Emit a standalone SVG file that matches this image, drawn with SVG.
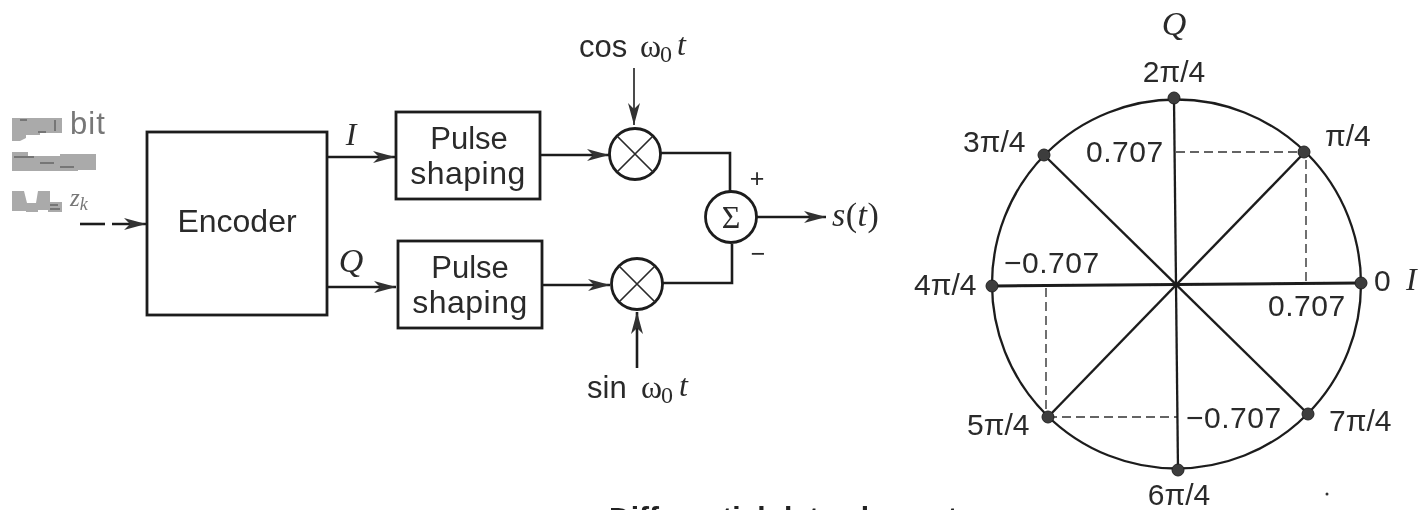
<svg xmlns="http://www.w3.org/2000/svg" width="1422" height="510" viewBox="0 0 1422 510">
<style>
.s{font-family:"Liberation Sans",Arial,sans-serif;font-size:30px;fill:#2a2a2a}
.m{font-family:"Liberation Serif","Times New Roman",serif;font-style:italic;font-size:32px;fill:#2a2a2a}
.g{font-family:"Liberation Serif","Times New Roman",serif;font-size:32px;fill:#2a2a2a}
.l{fill:none;stroke:#1c1c1c;stroke-width:2.6}
.t{fill:none;stroke:#2a2a2a;stroke-width:1.7}
.d{fill:none;stroke:#333;stroke-width:1.4;stroke-dasharray:9 5}
.b{fill:#fff;stroke:#1c1c1c;stroke-width:2.8}
.p{fill:#3c3c3c;stroke:#222;stroke-width:1}
.h{fill:#aaa}
.k{fill:none;stroke:#666;stroke-width:1.5}
</style>
<defs>
<marker id="a" markerUnits="userSpaceOnUse" markerWidth="26" markerHeight="14" refX="24" refY="7" orient="auto"><path d="M2 1L24 7L2 13L8 7Z" fill="#333"/></marker>
<filter id="soft" x="0" y="0" width="100%" height="100%"><feGaussianBlur stdDeviation="0.45"/></filter>
</defs>
<rect width="1422" height="510" fill="#fff"/>
<g filter="url(#soft)">
<g id="connectors">
<path class="l" d="M80 224H105"/>
<path class="l" d="M112 224H146" marker-end="url(#a)"/>
<path class="l" d="M326 157H395" marker-end="url(#a)"/>
<path class="l" d="M328 287H396" marker-end="url(#a)"/>
<path class="l" d="M541 155H609" marker-end="url(#a)"/>
<path class="l" d="M542 285H610" marker-end="url(#a)"/>
<path class="t" d="M634 68V125" marker-end="url(#a)"/>
<path class="l" d="M637 368V312" marker-end="url(#a)"/>
<path class="l" d="M661 153H730V192"/>
<path class="l" d="M663 283H732V244"/>
<path class="l" d="M757 217H826" marker-end="url(#a)"/>
<path class="d" d="M1176 152H1304"/>
<path class="d" d="M1306 160V281"/>
<path class="d" d="M1046 288V412"/>
<path class="d" d="M1048 417H1177"/>
</g>
<g id="encoder"><rect class="b" x="147" y="132" width="180" height="183"/><text class="s" x="237" y="232" text-anchor="middle" style="font-size:32px">Encoder</text></g>
<g id="input-label">
<path class="h" d="M12 118H62V133H40V135H26V138L20 141H12Z"/>
<path class="k" d="M20 120H27M38 132H46M55 120V131"/>
<path class="h" d="M12 152H28V156H60V154H96V170H78V171H12Z"/>
<path class="k" d="M14 157H34M40 163H54M60 167H74"/>
<path class="h" d="M12 191H24L27 203H36L38 191H50V202H62V212H48V210H38V212H26V211H12Z"/>
<path class="k" d="M50 205H58M50 209H60"/>
<text class="s" x="70" y="134" style="fill:#777;font-size:31px;letter-spacing:1px">bit</text>
<text class="m" x="70" y="206" style="fill:#777;font-size:25px">z<tspan dy="4" font-size="18">k</tspan></text>
</g>
<g id="label-i"><text class="m" x="351" y="145" text-anchor="middle">I</text></g>
<g id="label-q"><text class="m" x="351" y="272" text-anchor="middle" style="font-size:34px">Q</text></g>
<g id="pulse-top"><rect class="b" x="396" y="112" width="144" height="87"/><text class="s" x="469" y="149" text-anchor="middle" style="font-size:31px">Pulse</text><text class="s" x="468" y="184" text-anchor="middle" style="font-size:32px;letter-spacing:.5px">shaping</text></g>
<g id="pulse-bottom"><rect class="b" x="398" y="241" width="144" height="87"/><text class="s" x="470" y="278" text-anchor="middle" style="font-size:31px">Pulse</text><text class="s" x="470" y="313" text-anchor="middle" style="font-size:32px;letter-spacing:.5px">shaping</text></g>
<g id="mixer-top"><circle class="b" cx="635" cy="154" r="25.500"/><path class="t" d="M617 136L653 172M653 136L617 172"/></g>
<g id="mixer-bottom"><circle class="b" cx="637" cy="284" r="25.500"/><path class="t" d="M619 266L655 302M655 266L619 302"/></g>
<g id="sum"><circle class="b" cx="731" cy="217" r="25.500"/><text class="g" x="731" y="228" text-anchor="middle">Σ</text></g>
<g id="label-cos"><text class="s" x="579" y="57" style="font-size:31px">cos</text><text class="g" x="640" y="57">ω<tspan x="660" dy="5" font-size="24">0</tspan><tspan class="m" x="677" dy="-7">t</tspan></text></g>
<g id="label-sin"><text class="s" x="587" y="398" style="font-size:31px">sin</text><text class="g" x="641" y="398">ω<tspan x="661" dy="5" font-size="24">0</tspan><tspan class="m" x="679" dy="-7">t</tspan></text></g>
<g id="plus"><text class="s" x="757" y="187" text-anchor="middle" style="font-size:25px">+</text></g>
<g id="minus"><text class="s" x="758" y="262" text-anchor="middle" style="font-size:25px">−</text></g>
<g id="label-st"><text class="m" x="832" y="226" style="font-size:34px;letter-spacing:.5px">s<tspan font-style="normal">(</tspan>t<tspan font-style="normal">)</tspan></text></g>
<g id="constellation">
<circle class="l" cx="1176.500" cy="284" r="184.500" style="stroke-width:2.300"/>
<path class="l" d="M992 286L1361 283" style="stroke-width:3"/>
<path class="l" d="M1174 99L1178 470" style="stroke-width:2.300"/>
<path class="l" d="M1044 155L1308 414" style="stroke-width:2.400"/>
<path class="l" d="M1305 152L1048 417" style="stroke-width:2.400"/>
<circle class="p" cx="1174" cy="98" r="6"/><circle class="p" cx="1304" cy="152" r="6"/><circle class="p" cx="1361" cy="283" r="6"/><circle class="p" cx="1308" cy="414" r="6"/><circle class="p" cx="1178" cy="470" r="6"/><circle class="p" cx="1048" cy="417" r="6"/><circle class="p" cx="992" cy="286" r="6"/><circle class="p" cx="1044" cy="155" r="6"/>
</g>
<g id="labels">
<text class="m" x="1174" y="35" text-anchor="middle" style="font-size:34px">Q</text>
<text class="s" x="1174" y="82" text-anchor="middle">2π/4</text>
<text class="s" x="1325" y="146">π/4</text>
<text class="s" x="963" y="152">3π/4</text>
<text class="s" x="1086" y="162" style="letter-spacing:.5px">0.707</text>
<text class="s" x="1004" y="273" style="letter-spacing:.5px">−0.707</text>
<text class="s" x="914" y="295">4π/4</text>
<text class="s" x="1374" y="291">0</text>
<text class="m" x="1406" y="290">I</text>
<text class="s" x="1268" y="316" style="letter-spacing:.5px">0.707</text>
<text class="s" x="967" y="435">5π/4</text>
<text class="s" x="1186" y="428" style="letter-spacing:.5px">−0.707</text>
<text class="s" x="1329" y="431">7π/4</text>
<text class="s" x="1179" y="505" text-anchor="middle">6π/4</text>
</g>
<g id="caption"><text x="609" y="528" style="font-family:'Liberation Sans',Arial,sans-serif;font-size:30px;font-weight:bold;fill:#222">Differential data element</text></g>
<circle cx="1327" cy="494" r="1.500" fill="#333"/>
</g>
</svg>
